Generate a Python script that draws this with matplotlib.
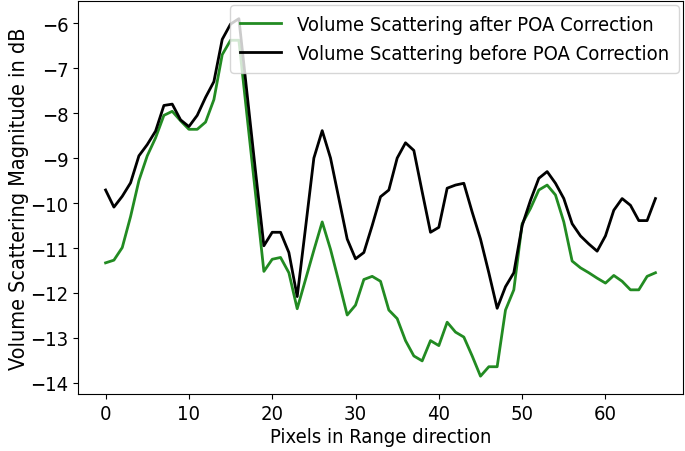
import matplotlib
matplotlib.use("Agg")
import matplotlib.pyplot as plt
import numpy as np

# volume scattering magnitude (dB) along range
after_poa = [-11.33, -11.27, -10.99, -10.3, -9.5, -8.95, -8.55, -8.05, -7.96, -8.17,
             -8.36, -8.36, -8.2, -7.7, -6.7, -6.38, -6.38, -8.1, -9.8, -11.52,
             -11.25, -11.21, -11.55, -12.35, -11.7, -11.05, -10.42, -11.03, -11.75, -12.49,
             -12.27, -11.7, -11.63, -11.74, -12.38, -12.57, -13.06, -13.4, -13.51, -13.06,
             -13.17, -12.65, -12.87, -12.98, -13.4, -13.85, -13.64, -13.64, -12.38, -11.93,
             -10.46, -10.12, -9.71, -9.6, -9.82, -10.42, -11.29, -11.44, -11.55, -11.67,
             -11.78, -11.61, -11.74, -11.93, -11.93, -11.63, -11.55]
before_poa = [-9.71, -10.09, -9.85, -9.55, -8.95, -8.7, -8.4, -7.83, -7.8, -8.15,
              -8.3, -8.05, -7.65, -7.3, -6.36, -6.02, -5.9, -7.6, -9.3, -10.95,
              -10.65, -10.65, -11.1, -12.08, -10.55, -9.0, -8.39, -9.0, -9.9, -10.8,
              -11.24, -11.1, -10.5, -9.86, -9.71, -9.0, -8.66, -8.83, -9.75, -10.65,
              -10.54, -9.67, -9.6, -9.56, -10.2, -10.8, -11.55, -12.34, -11.86, -11.55,
              -10.5, -9.94, -9.45, -9.3, -9.56, -9.9, -10.46, -10.73, -10.91, -11.07,
              -10.73, -10.16, -9.9, -10.05, -10.39, -10.39, -9.9]
pixels = np.arange(len(after_poa))

# the source image looks squashed sideways, so use a condensed face
plt.rcParams['font.family'] = ['DejaVu Sans']
plt.rcParams['font.stretch'] = 'condensed'
fs = 14.5

fig = plt.figure(figsize=(6.85, 4.52), dpi=100)
ax = fig.add_axes([0.114, 0.126, 0.883, 0.870])

ax.plot(pixels, after_poa, color='forestgreen', lw=2,
        label='Volume Scattering after POA Correction')
ax.plot(pixels, before_poa, color='k', lw=2,
        label='Volume Scattering before POA Correction')

ax.set_xlabel('Pixels in Range direction', fontsize=fs, labelpad=3)
ax.set_ylabel('Volume Scattering Magnitude in dB', fontsize=15.5, labelpad=1)
ax.tick_params(labelsize=fs)
ax.legend(loc='upper right', fontsize=fs, borderaxespad=0.2, borderpad=0.5)

fig.savefig('out.png', dpi=100)
